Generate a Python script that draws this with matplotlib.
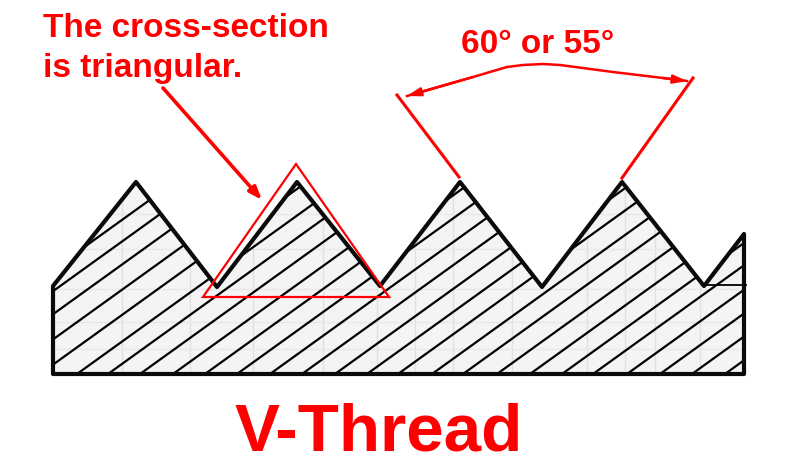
import matplotlib
matplotlib.use('Agg')
import matplotlib.pyplot as plt
from matplotlib.patches import Polygon

RED = '#ff0000'

# thread outline in pixels
profile_x = [53, 136, 217, 297, 380, 460, 542, 622, 704, 744, 744, 53]
profile_y = [287, 183, 288, 183, 287, 183, 288, 183, 287, 235, 375, 375]

# where each hatch line would meet the base line
hatch_base = [-92, -62, -30, 5, 40, 77, 108, 140, 173, 205, 237, 270, 302, 335,
              367, 398, 432, 463, 497, 530, 562, 593, 627, 660, 692, 725]
hatch_slope = 0.72

grid_x = [122, 190, 253, 323, 377, 415, 453, 512, 587, 625, 655, 700]
grid_y = [215, 250, 290, 323, 350]

triangle_x = [296, 203, 389]
triangle_y = [165, 298, 298]

dim_left_x = [397, 459]
dim_left_y = [96, 178]
dim_right_x = [693, 622]
dim_right_y = [79, 179]

curve_x = [407, 473, 507, 523, 543, 560, 613, 663, 687]
curve_y = [97, 78, 68, 66, 65, 66, 73, 79, 82]

leader_x = [163, 262]
leader_y = [89, 201]

fig = plt.figure(figsize=(8, 4.64), dpi=100)
ax = fig.add_axes([0, 0, 1, 1])
ax.set_xlim(0, 800)
ax.set_ylim(464, 0)
ax.axis('off')

plt.rcParams['font.family'] = ['Liberation Sans', 'DejaVu Sans']

outline = list(zip(profile_x, profile_y))
body = Polygon(outline, closed=True, facecolor='#f4f4f4', edgecolor='none', zorder=1)
ax.add_patch(body)

# faint squared paper behind the hatching
for gx in grid_x:
    l, = ax.plot([gx, gx], [160, 375], color='#e0e0e0', lw=1, zorder=2)
    l.set_clip_path(body)
for gy in grid_y:
    l, = ax.plot([50, 745], [gy, gy], color='#e8e8e8', lw=1, zorder=2)
    l.set_clip_path(body)

for b in hatch_base:
    l, = ax.plot([b, b + 400], [375, 375 - hatch_slope * 400], color='black', lw=1.6, zorder=3)
    l.set_clip_path(body)

ax.add_patch(Polygon(outline, closed=True, facecolor='none', edgecolor='#0a0a0a',
                     lw=3, joinstyle='round', zorder=4))
ax.plot([704, 746], [286, 286], color='black', lw=1.3, zorder=4)

ax.add_patch(Polygon(list(zip(triangle_x, triangle_y)), closed=True, facecolor='none',
                     edgecolor=RED, lw=1.6, joinstyle='miter', zorder=5))

ax.plot(dim_left_x, dim_left_y, color=RED, lw=2.2, zorder=5)
ax.plot(dim_right_x, dim_right_y, color=RED, lw=2.2, zorder=5)
ax.plot(curve_x, curve_y, color=RED, lw=1.8, zorder=5)

head = dict(arrowstyle='-|>,head_length=0.8,head_width=0.25', color=RED, lw=1.8,
            shrinkA=0, shrinkB=0)
ax.annotate('', xy=(curve_x[0], curve_y[0]), xytext=(curve_x[1], curve_y[1]), arrowprops=head, zorder=6)
ax.annotate('', xy=(curve_x[-1], curve_y[-1]), xytext=(curve_x[-2], curve_y[-2]), arrowprops=head, zorder=6)

lead = dict(arrowstyle='-|>,head_length=0.75,head_width=0.28', color=RED, lw=2.6,
            shrinkA=0, shrinkB=0)
ax.annotate('', xy=(leader_x[1], leader_y[1]), xytext=(leader_x[0], leader_y[0]), arrowprops=lead, zorder=6)

ax.text(43, 37, 'The cross-section', color=RED, fontsize=24, fontweight='bold', ha='left', va='baseline')
ax.text(43, 77, 'is triangular.', color=RED, fontsize=24, fontweight='bold', ha='left', va='baseline')
ax.text(461, 53, '60° or 55°', color=RED, fontsize=24, fontweight='bold', ha='left', va='baseline')
ax.text(235, 451, 'V-Thread', color=RED, fontsize=48.5, fontweight='bold', ha='left', va='baseline')

fig.savefig('out.png', dpi=100)
